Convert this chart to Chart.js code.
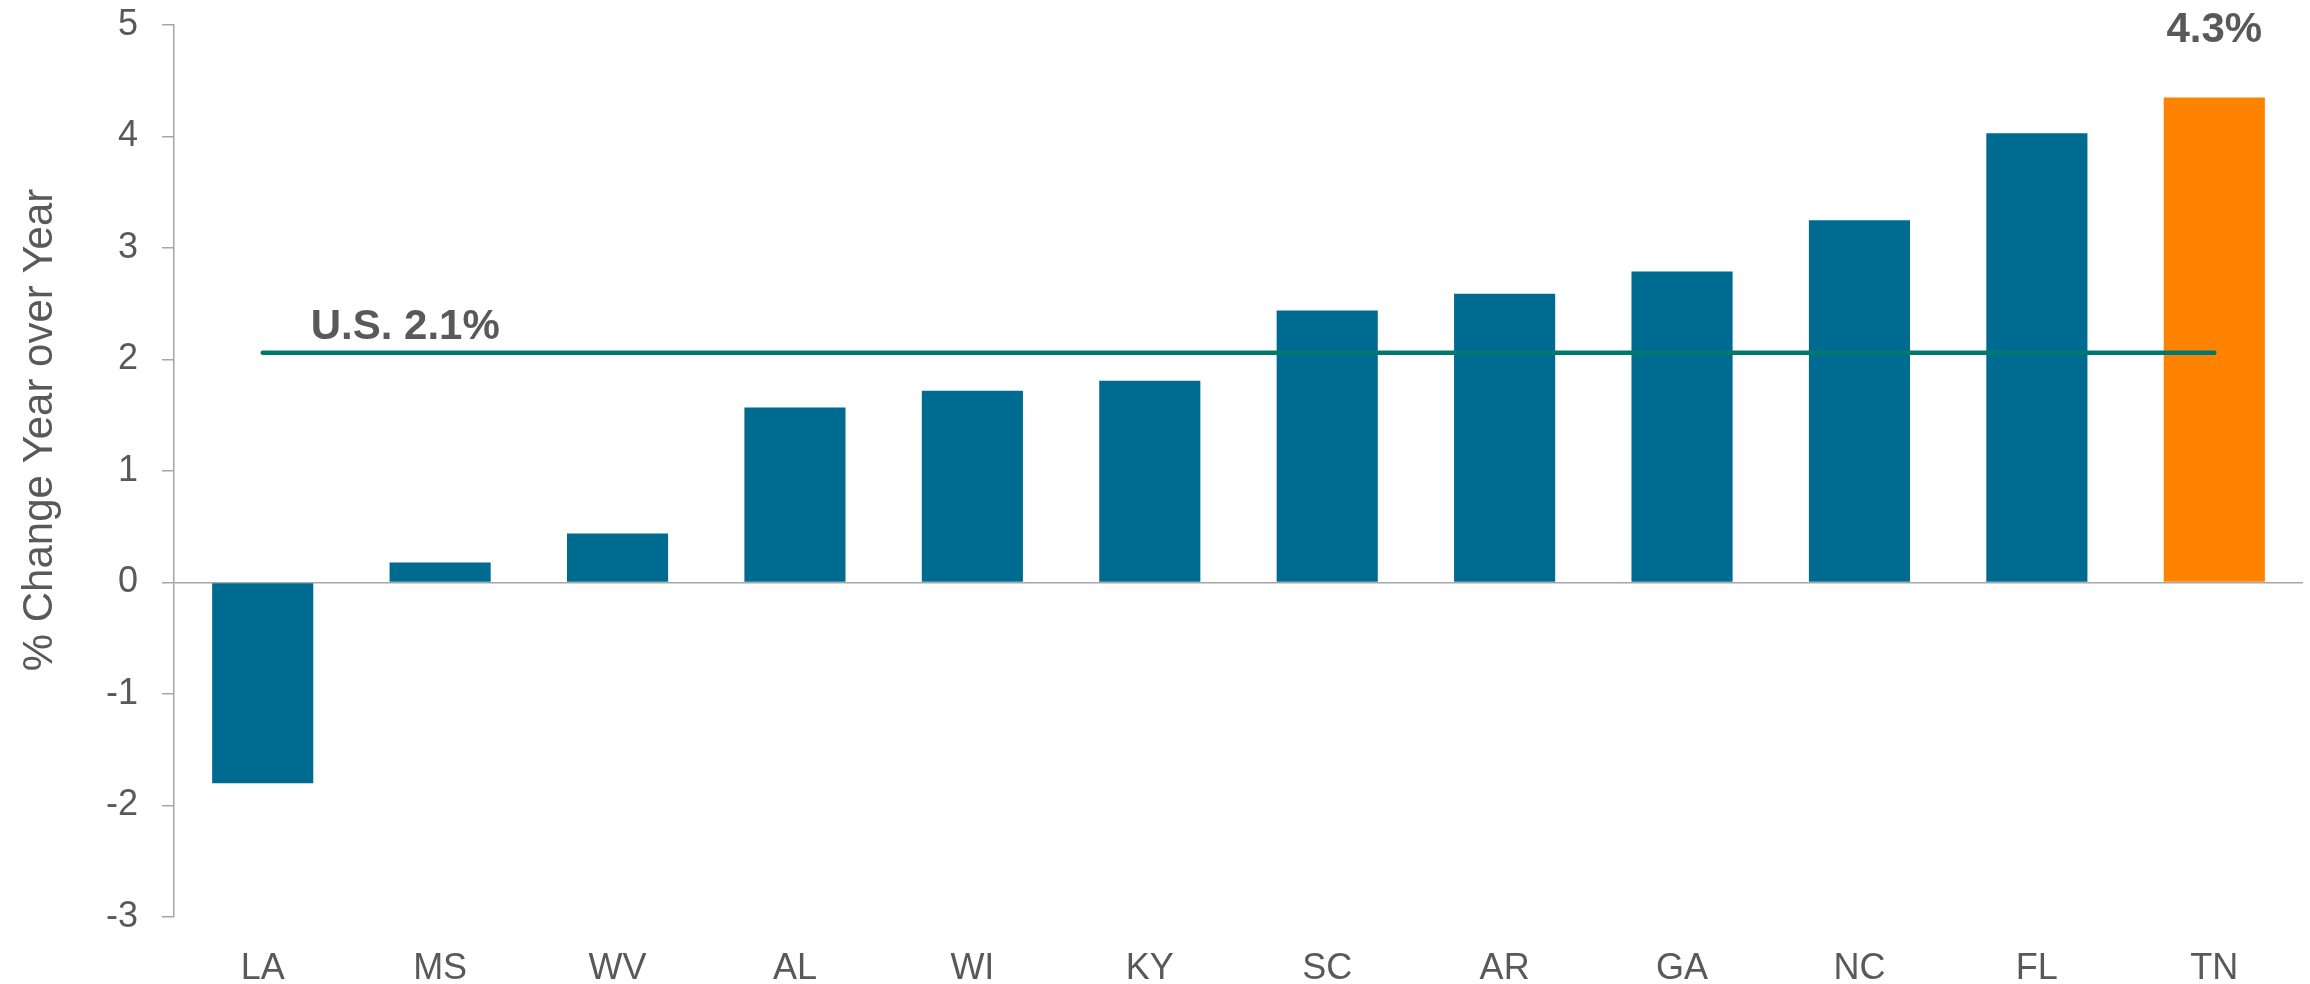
<!DOCTYPE html>
<html>
<head>
<meta charset="utf-8">
<script src="https://cdn.jsdelivr.net/npm/chart.js@4/dist/chart.umd.min.js"></script>
<style>
    html, body { margin: 0; padding: 0; background: #ffffff; }
    #wrap { width: 2310px; height: 984px; }
</style>
</head>
<body>
<div id="wrap"><canvas id="growthChart" width="2310" height="984"></canvas></div>
<script>
    // values
    var states = ['LA', 'MS', 'WV', 'AL', 'WI', 'KY', 'SC', 'AR', 'GA', 'NC', 'FL', 'TN'];
    var growth = [-1.80, 0.18, 0.44, 1.57, 1.72, 1.81, 2.44, 2.59, 2.79, 3.25, 4.03, 4.35];
    var usAverage = 2.06;
    var usLabel = 'U.S. 2.1%';
    var topLabel = '4.3%';
    var yTitle = '% Change Year over Year';

    var BLUE = '#006B91';
    var ORANGE = '#FF8200';
    var TEAL = '#00786E';
    var GREY_TEXT = '#595959';
    var GREY_LINE = '#A6A6A6';
    var FONT = '"Liberation Sans", Arial, sans-serif';

    var barColors = states.map(function (s) {
        return s === 'TN' ? ORANGE : BLUE;
    });
    var usLine = states.map(function () { return usAverage; });

    // axis title and the two bold notes
    var notesPlugin = {
        id: 'notes',
        afterDraw: function (chart) {
            var ctx = chart.ctx;
            var xs = chart.scales.x;
            var ys = chart.scales.y;
            ctx.save();
            ctx.fillStyle = GREY_TEXT;

            ctx.font = '42px ' + FONT;
            ctx.textAlign = 'center';
            ctx.textBaseline = 'middle';
            ctx.translate(40, 430);
            ctx.rotate(-Math.PI / 2);
            ctx.fillText(yTitle, 0, 0);
            ctx.setTransform(1, 0, 0, 1, 0, 0);

            ctx.font = 'bold 42px ' + FONT;
            ctx.textBaseline = 'alphabetic';
            ctx.textAlign = 'left';
            ctx.fillText(usLabel, xs.getPixelForValue(0) + 48, ys.getPixelForValue(usAverage) - 14);

            ctx.textAlign = 'center';
            ctx.fillText(topLabel, xs.getPixelForValue(states.length - 1), ys.getPixelForValue(5) + 17);
            ctx.restore();
        }
    };

    var ctx = document.getElementById('growthChart').getContext('2d');
    new Chart(ctx, {
        type: 'bar',
        data: {
            labels: states,
            datasets: [{
                type: 'line',
                data: usLine,
                borderColor: TEAL,
                borderWidth: 4.5,
                borderCapStyle: 'round',
                pointRadius: 0,
                fill: false,
                order: 0
            }, {
                data: growth,
                backgroundColor: barColors,
                borderWidth: 0,
                categoryPercentage: 1,
                barPercentage: 0.57,
                order: 1
            }]
        },
        options: {
            responsive: false,
            animation: false,
            layout: {
                padding: { top: 25, right: 7, left: 0, bottom: 0 }
            },
            plugins: {
                legend: { display: false },
                tooltip: { enabled: false }
            },
            scales: {
                x: {
                    grid: { display: false, drawTicks: false },
                    border: { display: false },
                    ticks: {
                        color: GREY_TEXT,
                        font: { family: FONT, size: 36 },
                        padding: 30,
                        maxRotation: 0
                    },
                    afterFit: function (scale) { scale.height = 67; }
                },
                y: {
                    min: -3,
                    max: 5,
                    ticks: {
                        stepSize: 1,
                        color: GREY_TEXT,
                        font: { family: FONT, size: 36 },
                        padding: 24
                    },
                    grid: {
                        color: function (c) {
                            return c.tick && c.tick.value === 0 ? GREY_LINE : 'rgba(0,0,0,0)';
                        },
                        tickColor: GREY_LINE,
                        tickLength: 12,
                        lineWidth: 1.5
                    },
                    border: { display: true, color: GREY_LINE, width: 1.5 },
                    afterFit: function (scale) {
                        scale.width = 174;
                        // tick padding should not push the plot down
                        scale.paddingTop = 0;
                        scale.paddingBottom = 0;
                    }
                }
            }
        },
        plugins: [notesPlugin]
    });
</script>
</body>
</html>
